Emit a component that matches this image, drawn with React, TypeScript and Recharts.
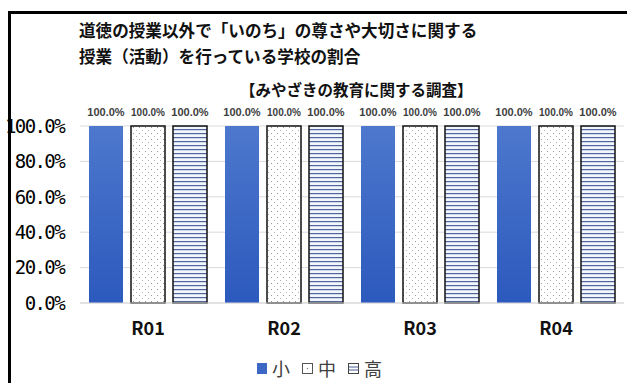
import { Bar, BarChart, CartesianGrid, LabelList, XAxis, YAxis } from "recharts";

const categories = ["R01", "R02", "R03", "R04"];
const shou = [100, 100, 100, 100];
const chuu = [100, 100, 100, 100];
const kou = [100, 100, 100, 100];
const seriesNames = ["小", "中", "高"];
const yTicks = [0, 20, 40, 60, 80, 100];
const titleLines = [
  "道徳の授業以外で「いのち」の尊さや大切さに関する",
  "授業（活動）を行っている学校の割合",
];
const subTitle = "【みやざきの教育に関する調査】";

const data = categories.map((c, i) => ({ name: c, shou: shou[i], chuu: chuu[i], kou: kou[i] }));

const jp = '"Noto Sans CJK JP", "Noto Sans", sans-serif';
const pct = (v: any) => `${Number(v).toFixed(1)}%`;

function LegendIcon({ kind }: { kind: string }) {
  if (kind === "shou")
    return (
      <svg width={10} height={11}>
        <rect x={0} y={0} width={10} height={11} fill="#3c67c4" />
      </svg>
    );
  if (kind === "chuu")
    return (
      <svg width={11} height={11}>
        <rect x={0.5} y={0.5} width={10} height={10} fill="#fff" stroke="#555" />
        <circle cx={5.5} cy={5.5} r={0.7} fill="#777" />
      </svg>
    );
  return (
    <svg width={11} height={11}>
      <rect x={0.5} y={0.5} width={10} height={10} fill="#fff" stroke="#444" />
      <line x1={1} x2={10} y1={4} y2={4} stroke="#4a5d96" />
      <line x1={1} x2={10} y1={7} y2={7} stroke="#4a5d96" />
    </svg>
  );
}

export default function App() {
  return (
    <div style={{ position: "absolute", left: 0, top: 0, width: 627, height: 383, background: "#fff", overflow: "hidden", fontFamily: jp }}>
      <BarChart
        width={627}
        height={383}
        data={data}
        margin={{ top: 126, right: 3, bottom: 0, left: 0 }}
        barCategoryGap={9}
        barGap={8}
      >
        <defs>
          <linearGradient id="blueGrad" x1="0" y1="0" x2="0" y2="1">
            <stop offset="0%" stopColor="#4d78cd" />
            <stop offset="100%" stopColor="#2c59bd" />
          </linearGradient>
          <pattern id="dots" width="6" height="6" patternUnits="userSpaceOnUse">
            <rect width="6" height="6" fill="#fff" />
            <rect x="1" y="1" width="1" height="1" fill="#9a9a9a" />
            <rect x="4" y="4" width="1" height="1" fill="#b0b0b0" />
          </pattern>
          <pattern id="stripes" width="4" height="4" patternUnits="userSpaceOnUse">
            <rect width="4" height="4" fill="#f1f6fc" />
            <rect x="0" y="1" width="4" height="1.2" fill="#52659e" />
          </pattern>
        </defs>
        <CartesianGrid vertical={false} stroke="#d9d9d9" />
        <XAxis
          dataKey="name"
          height={80}
          axisLine={{ stroke: "#d9d9d9" }}
          tickLine={false}
          tickSize={0}
          tickMargin={19}
          tick={{ fill: "#111", fontSize: 18, fontWeight: 700, fontFamily: jp }}
        />
        <YAxis
          width={80}
          domain={[0, 100]}
          ticks={yTicks}
          axisLine={false}
          tickLine={false}
          tickSize={0}
          tickMargin={16}
          tickFormatter={pct}
          tick={{ fill: "#000", fontSize: 19, fontFamily: '"DejaVu Sans Mono", monospace', letterSpacing: -1.6 }}
        />
        <Bar dataKey="shou" name={seriesNames[0]} fill="url(#blueGrad)" isAnimationActive={false}>
          <LabelList dataKey="shou" position="top" offset={10} formatter={pct} fill="#404040" fontSize={11} fontWeight={700} fontFamily="Liberation Sans, Arial, sans-serif" />
        </Bar>
        <Bar dataKey="chuu" name={seriesNames[1]} fill="url(#dots)" stroke="#111" strokeWidth={1.5} isAnimationActive={false}>
          <LabelList dataKey="chuu" position="top" offset={10} formatter={pct} fill="#404040" fontSize={10} fontWeight={700} fontFamily="Liberation Sans, Arial, sans-serif" />
        </Bar>
        <Bar dataKey="kou" name={seriesNames[2]} fill="url(#stripes)" stroke="#111" strokeWidth={1.5} isAnimationActive={false}>
          <LabelList dataKey="kou" position="top" offset={10} formatter={pct} fill="#404040" fontSize={11} fontWeight={700} fontFamily="Liberation Sans, Arial, sans-serif" />
        </Bar>
      </BarChart>

      <div style={{ position: "absolute", left: 79, top: 21, fontSize: 16.6, fontWeight: 700, lineHeight: "18px", color: "#111", whiteSpace: "nowrap" }}>
        {titleLines[0]}
      </div>
      <div style={{ position: "absolute", left: 79, top: 47, fontSize: 16.6, fontWeight: 700, lineHeight: "18px", color: "#111", whiteSpace: "nowrap" }}>
        {titleLines[1]}
      </div>
      <div style={{ position: "absolute", left: 240, top: 80, fontSize: 15.5, fontWeight: 700, lineHeight: "18px", color: "#111", whiteSpace: "nowrap" }}>
        {subTitle}
      </div>

      <div style={{ position: "absolute", left: 257, top: 357, display: "flex", alignItems: "center", fontSize: 18, lineHeight: "22px", color: "#404040" }}>
        {["shou", "chuu", "kou"].map((k, i) => (
          <div key={k} style={{ display: "flex", alignItems: "center", marginRight: 12 }}>
            <LegendIcon kind={k} />
            <span style={{ marginLeft: 5 }}>{seriesNames[i]}</span>
          </div>
        ))}
      </div>

      <div style={{ position: "absolute", left: 8, top: 11, width: 619, height: 3, background: "#000" }} />
      <div style={{ position: "absolute", left: 8, top: 11, width: 3, height: 372, background: "#000" }} />
    </div>
  );
}
